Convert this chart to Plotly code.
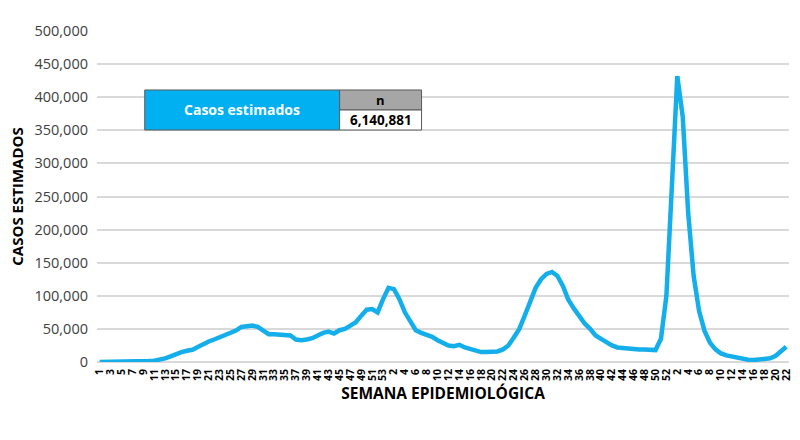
import plotly.graph_objects as go

# Weekly estimated cases: 2020 (weeks 1-53), 2021 (weeks 1-52), 2022 (weeks 1-22)
cases_2020 = [0, 0, 0, 0, 0, 0, 500, 800, 1000, 1500,
              2000, 3500, 5500, 8500, 12000, 15000, 17000, 18500, 22500, 27000,
              31000, 34000, 37500, 42000, 45000, 47500, 53000, 54000, 55000, 53000,
              48000, 42000, 42000, 41500, 40000, 40000, 34000, 33000, 34000, 36000,
              40000, 44000, 46000, 43000, 48000, 50000, 55000, 60000, 70000, 79000,
              80000, 75000, 95000]
cases_2021 = [112000, 110000, 95000, 75000, 62000, 48000, 44000, 41000, 38000, 33000,
              29000, 25000, 24000, 26000, 22000, 20000, 17000, 15000, 15000, 15500,
              16000, 19000, 25000, 37000, 50000, 70000, 92000, 112000, 125000, 133000,
              136000, 130000, 115000, 94000, 81000, 70000, 58000, 50000, 40000, 35000,
              29000, 25000, 22000, 21000, 20000, 20000, 19000, 19000, 18000, 18000,
              35000, 100000]
cases_2022 = [265000, 432000, 370000, 225000, 130000, 77000, 47000, 29000, 19000, 13000,
              10000, 8000, 6000, 4500, 3500, 3000, 3500, 4000, 5500, 9000,
              15000, 23000]

weeks_2020 = list(range(1, 54))
weeks_2021 = list(range(1, 53))
weeks_2022 = list(range(1, 23))

total_label = "Casos estimados"
total_header = "n"
total_value = "6,140,881"

values = cases_2020 + cases_2021 + cases_2022
week_labels = [str(w) for w in weeks_2020 + weeks_2021 + weeks_2022]
idx = list(range(len(values)))

tickvals = [i for i in idx if i % 2 == 0]
ticktext = [week_labels[i] for i in tickvals]

fig = go.Figure()
fig.add_trace(go.Scatter(
    x=idx, y=values, mode="lines",
    line=dict(color="#14aeea", width=4.5),
    hoverinfo="skip", showlegend=False,
))

font_family = "Open Sans"

fig.update_layout(
    width=800, height=440,
    margin=dict(l=97, r=7, t=31, b=78),
    paper_bgcolor="white", plot_bgcolor="white",
    font=dict(family=font_family),
    xaxis=dict(
        range=[-0.5, len(values) - 0.5],
        tickmode="array", tickvals=tickvals, ticktext=ticktext,
        tickangle=-90,
        tickfont=dict(family=font_family, size=10.5, color="#000000", weight="bold"),
        showgrid=False, zeroline=False, showline=False, ticks="",
        ticklabelstandoff=4,
        title=dict(text="SEMANA EPIDEMIOLÓGICA",
                   font=dict(family=font_family, size=15.5, color="#000000", weight="bold"),
                   standoff=8),
    ),
    yaxis=dict(
        range=[0, 500000], dtick=50000,
        tickformat=",",
        tickfont=dict(family=font_family, size=14.5, color="#404040"),
        showgrid=True, gridcolor="#d9d9d9", gridwidth=1.5,
        zeroline=True, zerolinecolor="#d9d9d9", zerolinewidth=1.5,
        showline=False, ticks="",
        ticklabelstandoff=8,
        title=dict(text="CASOS ESTIMADOS",
                   font=dict(family=font_family, size=15, color="#000000", weight="bold"),
                   standoff=7),
    ),
)

# Summary table (blue label cell, gray header, white value cell)
x0, x1, x2 = 0.069, 0.3506, 0.469
y_top, y_mid, y_bot = 0.8218, 0.7613, 0.7009
fig.add_shape(type="rect", xref="paper", yref="paper", x0=x0, x1=x1, y0=y_bot, y1=y_top,
              fillcolor="#00b0f0", line=dict(color="#5a5a5a", width=1), layer="above")
fig.add_shape(type="rect", xref="paper", yref="paper", x0=x1, x1=x2, y0=y_mid, y1=y_top,
              fillcolor="#a6a6a6", line=dict(color="#5a5a5a", width=1), layer="above")
fig.add_shape(type="rect", xref="paper", yref="paper", x0=x1, x1=x2, y0=y_bot, y1=y_mid,
              fillcolor="#ffffff", line=dict(color="#5a5a5a", width=1), layer="above")
ann_common = dict(xref="paper", yref="paper", showarrow=False,
                  xanchor="center", yanchor="middle")
fig.add_annotation(x=(x0 + x1) / 2, y=(y_top + y_bot) / 2, text=total_label,
                   font=dict(family=font_family, size=14, color="white", weight="bold"),
                   **ann_common)
fig.add_annotation(x=(x1 + x2) / 2, y=(y_top + y_mid) / 2, text=total_header,
                   font=dict(family=font_family, size=13, color="black", weight="bold"),
                   **ann_common)
fig.add_annotation(x=(x1 + x2) / 2, y=(y_mid + y_bot) / 2, text=total_value,
                   font=dict(family=font_family, size=13.5, color="black", weight="bold"),
                   **ann_common)

fig.write_html("out.html")
